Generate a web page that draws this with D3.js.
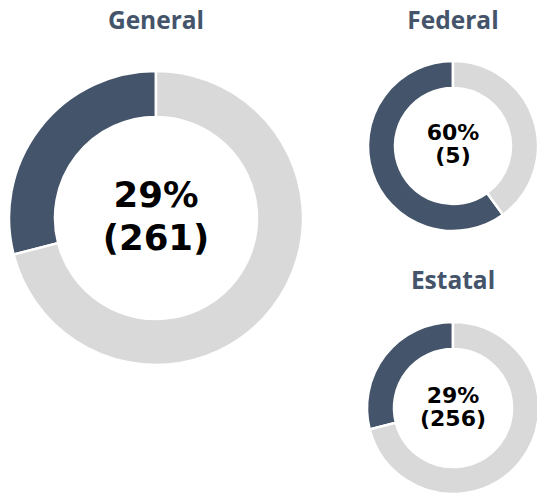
<!DOCTYPE html>
<html>
<head>
<meta charset="utf-8">
<script src="https://cdn.jsdelivr.net/npm/d3@7"></script>
<style>
  html, body { margin: 0; padding: 0; background: #ffffff; }
  svg { display: block; }
</style>
</head>
<body>
<svg id="chart" width="537" height="496"></svg>
<script>
// Share of cases per level of government
const groups = ["General", "Federal", "Estatal"];
const percents = [29, 60, 29];
const counts = [261, 5, 256];

// Donut placement and text sizing for each group
const layout = [
  { cx: 156, cy: 218, outer: 147, inner: 101, titleY: 29,  font: 35.5, line1: -11, line2: 32 },
  { cx: 453, cy: 146, outer: 85,  inner: 58,  titleY: 29,  font: 22,   line1: -6,  line2: 17 },
  { cx: 453, cy: 408, outer: 86,  inner: 59,  titleY: 289, font: 22,   line1: -5,  line2: 18 }
];

const colorScale = d3.scaleOrdinal()
  .domain(["share", "rest"])
  .range(["#44546a", "#d9d9d9"]);

const svg = d3.select("#chart");

// Dark slice starts at 12 o'clock and runs counter-clockwise
const pie = d3.pie()
  .sort(null)
  .value(d => d.value)
  .startAngle(0)
  .endAngle(-2 * Math.PI);

groups.forEach((name, i) => {
  const L = layout[i];
  const slices = pie([
    { key: "share", value: percents[i] },
    { key: "rest", value: 100 - percents[i] }
  ]);
  const arc = d3.arc().innerRadius(L.inner).outerRadius(L.outer);

  const g = svg.append("g").attr("transform", `translate(${L.cx},${L.cy})`);

  g.selectAll("path")
    .data(slices)
    .join("path")
    .attr("d", arc)
    .attr("fill", d => colorScale(d.data.key))
    .attr("stroke", "#ffffff")
    .attr("stroke-width", 2.5);

  const label = g.append("text")
    .attr("text-anchor", "middle")
    .attr("font-family", "'DejaVu Sans', sans-serif")
    .attr("font-weight", "bold")
    .attr("font-size", L.font)
    .attr("fill", "#000000");
  label.append("tspan").attr("x", 0).attr("y", L.line1).text(`${percents[i]}%`);
  label.append("tspan").attr("x", 0).attr("y", L.line2).text(`(${counts[i]})`);

  svg.append("text")
    .attr("x", L.cx)
    .attr("y", L.titleY)
    .attr("text-anchor", "middle")
    .attr("font-family", "'Open Sans', sans-serif")
    .attr("font-weight", "bold")
    .attr("font-size", 24.5)
    .attr("fill", "#44546a")
    .text(name);
});
</script>
</body>
</html>
